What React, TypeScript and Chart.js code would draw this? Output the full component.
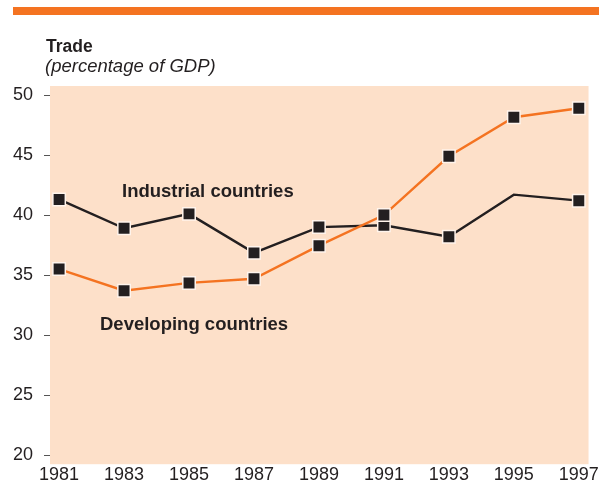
import React, { useEffect, useRef } from "react";
import { Chart, registerables } from "chart.js";

Chart.register(...registerables);

const years = [1981, 1983, 1985, 1987, 1989, 1991, 1993, 1995, 1997];
const industrial = [41.3, 38.9, 40.1, 36.85, 39.0, 39.15, 38.2, 41.7, 41.2];
const developing = [35.5, 33.7, 34.35, 34.7, 37.45, 40.0, 44.9, 48.15, 48.9];
const industrialMarkers = [true, true, true, true, true, true, true, false, true];
const yTicks = [20, 25, 30, 35, 40, 45, 50];

const FONT = "'Liberation Sans', Arial, Helvetica, sans-serif";
const ORANGE = "#f47321";
const BLACK = "#231f20";
const PEACH = "#fde0c9";

const decorPlugin = {
  id: "decor",
  beforeDraw(chart: any) {
    const { ctx, chartArea } = chart;
    ctx.save();
    ctx.fillStyle = "#ffffff";
    ctx.fillRect(0, 0, chart.width, chart.height);
    ctx.fillStyle = ORANGE;
    ctx.fillRect(13, 7, chart.width - 13, 8);
    ctx.fillStyle = PEACH;
    ctx.fillRect(chartArea.left, chartArea.top, chartArea.right - chartArea.left, chartArea.bottom - chartArea.top);
    ctx.fillStyle = BLACK;
    ctx.textBaseline = "alphabetic";
    ctx.textAlign = "left";
    ctx.font = `bold 17.5px ${FONT}`;
    ctx.fillText("Trade", 46, 51.5);
    ctx.font = `italic 18.5px ${FONT}`;
    ctx.fillText("(percentage of GDP)", 45, 72);
    ctx.restore();
  },
  afterDatasetsDraw(chart: any) {
    const { ctx } = chart;
    ctx.save();
    ctx.fillStyle = BLACK;
    ctx.textBaseline = "alphabetic";
    ctx.textAlign = "left";
    ctx.font = `bold 18.5px ${FONT}`;
    ctx.fillText("Industrial countries", 122, 196.5);
    ctx.fillText("Developing countries", 100, 330);
    ctx.restore();
  },
};

export default function App() {
  const ref = useRef<HTMLCanvasElement | null>(null);
  useEffect(() => {
    document.body.style.margin = "0";
    if (!ref.current) return;
    const pointCommon = {
      pointStyle: "rect",
      pointRadius: 8.8,
      pointBorderWidth: 1.5,
      pointBorderColor: "#fff4ec",
      pointBackgroundColor: BLACK,
      pointHoverRadius: 8.8,
    };
    const chart = new Chart(ref.current, {
      type: "line",
      data: {
        datasets: [
          {
            label: "Industrial countries",
            data: years.map((y, i) => ({ x: y, y: industrial[i] })),
            borderColor: BLACK,
            borderWidth: 2.4,
            ...pointCommon,
            pointRadius: industrialMarkers.map((m) => (m ? 8.8 : 0)),
            order: 2,
          } as any,
          {
            label: "Developing countries",
            data: years.map((y, i) => ({ x: y, y: developing[i] })),
            borderColor: ORANGE,
            borderWidth: 2.4,
            ...pointCommon,
            order: 1,
          } as any,
        ],
      },
      options: {
        responsive: false,
        animation: false,
        layout: { padding: { top: 86, right: 10, left: 0, bottom: 0 } },
        plugins: { legend: { display: false }, tooltip: { enabled: false }, title: { display: false } },
        scales: {
          x: {
            type: "linear",
            min: 1980.72,
            max: 1997.3,
            afterBuildTicks: (scale: any) => {
              scale.ticks = years.map((v) => ({ value: v }));
            },
            afterFit: (scale: any) => {
              scale.height = 18;
            },
            grid: { display: false, drawTicks: false },
            border: { display: false },
            ticks: {
              padding: 0,
              maxRotation: 0,
              autoSkip: false,
              color: BLACK,
              font: { family: FONT, size: 18 },
              callback: (v: any) => String(v),
            },
          },
          y: {
            type: "linear",
            min: 19.25,
            max: 50.75,
            afterBuildTicks: (scale: any) => {
              scale.ticks = yTicks.map((v) => ({ value: v }));
            },
            afterFit: (scale: any) => {
              scale.width = 50;
            },
            grid: { drawOnChartArea: false, drawTicks: true, tickLength: 6, color: "#555555", tickWidth: 1 },
            border: { display: false },
            ticks: {
              padding: 11,
              color: BLACK,
              font: { family: FONT, size: 18 },
              callback: (v: any) => String(v),
            },
          },
        },
      },
      plugins: [decorPlugin],
    });
    return () => chart.destroy();
  }, []);
  return <canvas ref={ref} width={599} height={486} style={{ display: "block" }} />;
}
